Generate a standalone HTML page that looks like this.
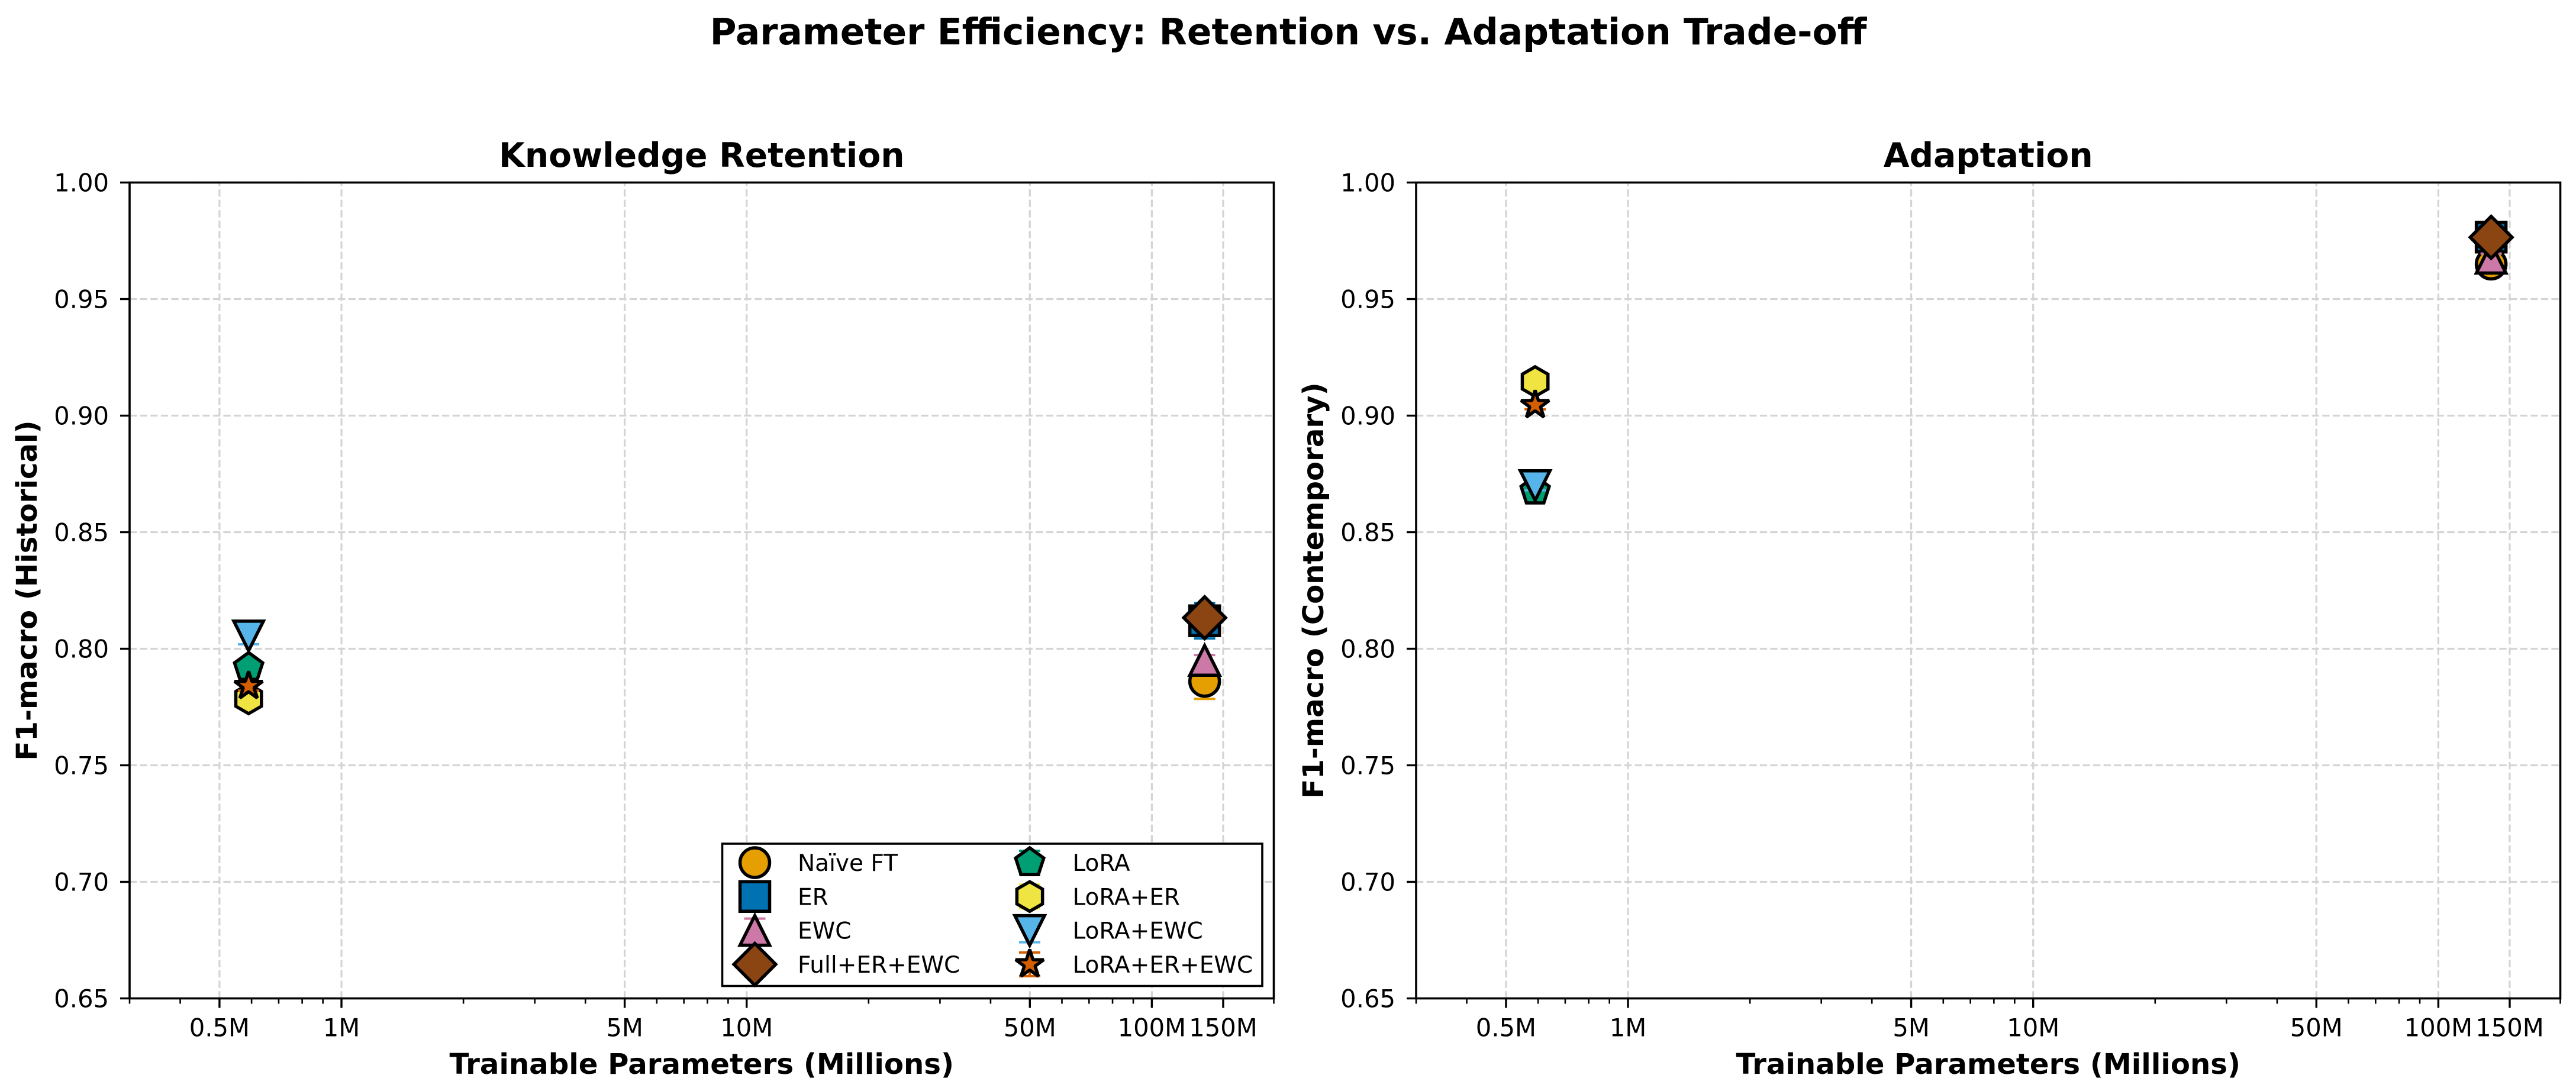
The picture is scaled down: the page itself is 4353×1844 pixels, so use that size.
<!DOCTYPE html>
<html lang="en">
<head>
<meta charset="utf-8">
<title>Parameter Efficiency: Retention vs. Adaptation Trade-off</title>
<style>
  html, body { margin: 0; padding: 0; background: #ffffff; }
  svg { display: block; }
  text { font-family: "DejaVu Sans", "Liberation Sans", sans-serif; fill: #000000; }
  .bold { font-weight: 700; }
</style>
</head>
<body>
<svg id="figure" xmlns="http://www.w3.org/2000/svg" width="4353" height="1844" viewBox="0 0 4353 1844">
  <rect x="0" y="0" width="4353" height="1844" fill="#ffffff"/>
  <text class="bold" x="2177" y="75" font-size="61.3" text-anchor="middle">Parameter Efficiency: Retention vs. Adaptation Trade-off</text>
  <g id="panel-left"></g>
  <g id="panel-right"></g>
</svg>
<script>
// ---- Data ----
const seriesNames = ['Naïve FT', 'ER', 'EWC', 'Full+ER+EWC', 'LoRA', 'LoRA+ER', 'LoRA+EWC', 'LoRA+ER+EWC'];
const trainableParamsMillions = [135, 135, 135, 135, 0.59, 0.59, 0.59, 0.59];
const retentionF1 = [0.786, 0.812, 0.795, 0.8133, 0.792, 0.7785, 0.8055, 0.784];
const retentionErr = [0.0075, 0.0076, 0.0023, 0.002, 0.002, 0.002, 0.0036, 0.002];
const adaptationF1 = [0.965, 0.9766, 0.9675, 0.9765, 0.8677, 0.9146, 0.87, 0.9045];
const adaptationErr = [0.002, 0.002, 0.002, 0.002, 0.001, 0.002, 0.002, 0.0018];
const xTickValues = [0.5, 1, 5, 10, 50, 100, 150];
const xTickLabels = ['0.5M', '1M', '5M', '10M', '50M', '100M', '150M'];
const xMinorTickValues = [0.3, 0.4, 0.6, 0.7, 0.8, 0.9, 2, 3, 4, 6, 7, 8, 9, 20, 30, 40, 60, 70, 80, 90, 200];
const yTickValues = [0.65, 0.70, 0.75, 0.80, 0.85, 0.90, 0.95, 1.00];
const yTickLabels = ['0.65', '0.70', '0.75', '0.80', '0.85', '0.90', '0.95', '1.00'];

// ---- Style ----
const seriesColors = ['#E69F00', '#0072B2', '#CC79A7', '#8B4513', '#009E73', '#F0E442', '#56B4E9', '#D55E00'];
const seriesMarkers = ['circle', 'square', 'triangle-up', 'diamond', 'pentagon', 'hexagon', 'triangle-down', 'star'];
const MARKER_SIZE = 50, MARKER_STROKE = 5.5, CAP_HALF = 18, CAP_WIDTH = 4;
const X_MIN = 0.3, X_MAX = 200, Y_MIN = 0.65, Y_MAX = 1.0;
const AXIS_TOP = 308.5, AXIS_BOTTOM = 1687.5, AXIS_WIDTH = 1933.5;
const SVG_NS = 'http://www.w3.org/2000/svg';

function create(tag, parent, attrs) {
  const el = document.createElementNS(SVG_NS, tag);
  for (const k in attrs) el.setAttribute(k, attrs[k]);
  parent.appendChild(el);
  return el;
}
function slug(s) {
  return s.toLowerCase().replace(/ï/g, 'i').replace(/\+/g, '-').replace(/[^a-z0-9-]+/g, '-');
}
function polygonPath(points) {
  return 'M' + points.map(p => p[0].toFixed(2) + ',' + p[1].toFixed(2)).join('L') + 'Z';
}
function regularPoints(n, r, rot) {
  const pts = [];
  for (let i = 0; i < n; i++) {
    const a = rot + i * 2 * Math.PI / n;
    pts.push([r * Math.sin(a), -r * Math.cos(a)]);
  }
  return pts;
}
function markerPath(kind, s) {
  const h = s / 2;
  if (kind === 'circle') return 'M' + (-h) + ',0A' + h + ',' + h + ' 0 1 1 ' + h + ',0A' + h + ',' + h + ' 0 1 1 ' + (-h) + ',0Z';
  if (kind === 'square') return polygonPath([[-h, -h], [h, -h], [h, h], [-h, h]]);
  if (kind === 'triangle-up') return polygonPath([[0, -h], [h, h], [-h, h]]);
  if (kind === 'triangle-down') return polygonPath([[0, h], [-h, -h], [h, -h]]);
  if (kind === 'diamond') { const d = h * Math.SQRT2; return polygonPath([[0, -d], [d, 0], [0, d], [-d, 0]]); }
  if (kind === 'pentagon') return polygonPath(regularPoints(5, h, 0));
  if (kind === 'hexagon') return polygonPath(regularPoints(6, h, 0));
  const outer = regularPoints(5, h, 0);
  const inner = regularPoints(5, h * 0.381966, Math.PI / 5);
  const pts = [];
  for (let i = 0; i < 5; i++) { pts.push(outer[i]); pts.push(inner[i]); }
  return polygonPath(pts);
}
function drawMarker(parent, i, cx, cy, capUp, capDown) {
  const g = create('g', parent, {});
  
  
  const color = seriesColors[i];
  create('line', g, { x1: cx, x2: cx, y1: capUp, y2: capDown, stroke: color, 'stroke-width': 4.5 });
  create('line', g, { x1: cx - CAP_HALF, x2: cx + CAP_HALF, y1: capUp, y2: capUp, stroke: color, 'stroke-width': CAP_WIDTH });
  create('line', g, { x1: cx - CAP_HALF, x2: cx + CAP_HALF, y1: capDown, y2: capDown, stroke: color, 'stroke-width': CAP_WIDTH });
  create('path', g, {
    d: markerPath(seriesMarkers[i], MARKER_SIZE),
    transform: 'translate(' + cx + ' ' + cy + ')',
    fill: color,
    stroke: '#000000',
    'stroke-width': MARKER_STROKE,
    'stroke-linejoin': seriesMarkers[i] === 'star' ? 'bevel' : 'miter',
    'stroke-miterlimit': 10
  });
}
function drawPanel(parent, opts) {
  const left = opts.left, right = left + AXIS_WIDTH;
  const xScale = v => left + (Math.log10(v) - Math.log10(X_MIN)) / (Math.log10(X_MAX) - Math.log10(X_MIN)) * AXIS_WIDTH;
  const yScale = v => AXIS_BOTTOM - (v - Y_MIN) / (Y_MAX - Y_MIN) * (AXIS_BOTTOM - AXIS_TOP);

  // Grid
  const grid = create('g', parent, {});
  
  
  const gridStyle = { stroke: '#d4d4d4', 'stroke-width': 3.2, 'stroke-dasharray': '12.3 5.3' };
  xTickValues.forEach(v => {
    const x = xScale(v);
    create('line', grid, Object.assign({ x1: x, x2: x, y1: AXIS_BOTTOM, y2: AXIS_TOP }, gridStyle));
  });
  yTickValues.forEach(v => {
    const y = yScale(v);
    create('line', grid, Object.assign({ x1: left, x2: right, y1: y, y2: y }, gridStyle));
  });

  // Series
  const marks = create('g', parent, {});
  
  
  seriesNames.forEach((name, i) => {
    const v = opts.values[i], e = opts.errors[i];
    drawMarker(marks, i, xScale(trainableParamsMillions[i]), yScale(v), yScale(v + e), yScale(v - e));
  });

  // Spines
  const frame = create('rect', parent, { x: left, y: AXIS_TOP, width: AXIS_WIDTH, height: AXIS_BOTTOM - AXIS_TOP, fill: 'none', stroke: '#000000', 'stroke-width': 3.6 });
  
  

  // X ticks
  const xAxis = create('g', parent, {});
  
  
  xMinorTickValues.forEach(v => {
    const x = xScale(v);
    create('line', xAxis, { x1: x, x2: x, y1: AXIS_BOTTOM, y2: AXIS_BOTTOM + 9, stroke: '#000000', 'stroke-width': 2.6 });
  });
  xTickValues.forEach((v, i) => {
    const x = xScale(v);
    create('line', xAxis, { x1: x, x2: x, y1: AXIS_BOTTOM, y2: AXIS_BOTTOM + 16, stroke: '#000000', 'stroke-width': 3.4 });
    const t = create('text', xAxis, { x: x, y: 1751.5, 'font-size': 41.7, 'text-anchor': 'middle' });
    t.textContent = xTickLabels[i];
    
    
  });

  // Y ticks
  const yAxis = create('g', parent, {});
  
  
  yTickValues.forEach((v, i) => {
    const y = yScale(v);
    create('line', yAxis, { x1: left, x2: left - 16, y1: y, y2: y, stroke: '#000000', 'stroke-width': 3.4 });
    const t = create('text', yAxis, { x: left - 35, y: y + 15.2, 'font-size': 41.7, 'text-anchor': 'end' });
    t.textContent = yTickLabels[i];
    
    
  });

  // Titles
  const center = left + AXIS_WIDTH / 2;
  const title = create('text', parent, { class: 'bold', x: center, y: 282, 'font-size': 56.6, 'text-anchor': 'middle' });
  title.textContent = opts.title;
  
  
  const xLabel = create('text', parent, { class: 'bold', x: center, y: 1815, 'font-size': 48.2, 'text-anchor': 'middle' });
  xLabel.textContent = 'Trainable Parameters (Millions)';
  
  
  const midY = (AXIS_TOP + AXIS_BOTTOM) / 2;
  const yLabel = create('text', parent, { class: 'bold', x: 0, y: 0, 'font-size': 48.2, 'text-anchor': 'middle', transform: 'translate(' + (left - 157) + ' ' + midY + ') rotate(-90)' });
  yLabel.textContent = opts.yLabel;
  
  
}
function drawLegend(parent) {
  const legend = create('g', parent, {});
  
  
  create('rect', legend, { x: 1220.5, y: 1426, width: 912.5, height: 240.5, fill: '#ffffff', stroke: '#000000', 'stroke-width': 3.6 });
  seriesNames.forEach((name, i) => {
    const col = Math.floor(i / 4), row = i % 4;
    const cy = 1458 + row * 57.3;
    const mx = 1275.5 + col * 464.5;
    const entry = create('g', legend, {});
    
    
    drawMarker(entry, i, mx, cy, cy - 20, cy + 20);
    const t = create('text', entry, { x: mx + 72.5, y: cy + 14, 'font-size': 39 });
    t.textContent = name;
    
    
  });
}
const panelLeft = document.getElementById('panel-left');
const panelRight = document.getElementById('panel-right');
drawPanel(panelLeft, { left: 219, title: 'Knowledge Retention', yLabel: 'F1-macro (Historical)', values: retentionF1, errors: retentionErr });
drawPanel(panelRight, { left: 2393, title: 'Adaptation', yLabel: 'F1-macro (Contemporary)', values: adaptationF1, errors: adaptationErr });
drawLegend(panelLeft);
</script>
</body>
</html>
